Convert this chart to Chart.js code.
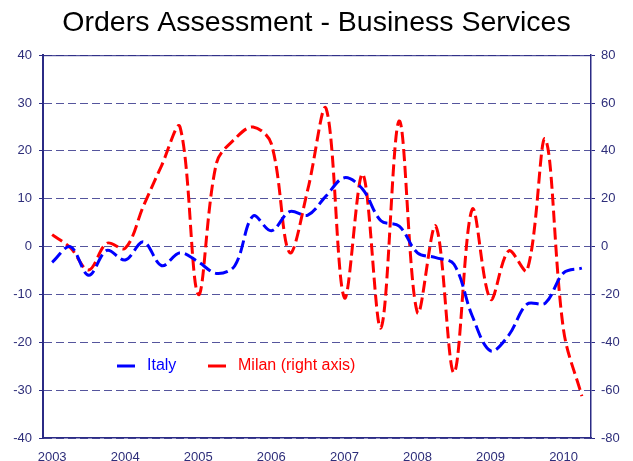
<!DOCTYPE html>
<html>
<head>
<meta charset="utf-8">
<script src="https://cdn.jsdelivr.net/npm/chart.js@4.4.1/dist/chart.umd.min.js"></script>
<style>
  html, body { margin: 0; padding: 0; background: #fff; }
  #wrap { width: 633px; height: 461px; }
</style>
</head>
<body>
<div id="wrap"><canvas id="ordersChart"></canvas></div>
<script>
// quarterly categories, 2003 Q1 .. 2010 Q2
const quarters = [
    "2003 Q1", "2003 Q2", "2003 Q3", "2003 Q4",
    "2004 Q1", "2004 Q2", "2004 Q3", "2004 Q4",
    "2005 Q1", "2005 Q2", "2005 Q3", "2005 Q4",
    "2006 Q1", "2006 Q2", "2006 Q3", "2006 Q4",
    "2007 Q1", "2007 Q2", "2007 Q3", "2007 Q4",
    "2008 Q1", "2008 Q2", "2008 Q3", "2008 Q4",
    "2009 Q1", "2009 Q2", "2009 Q3", "2009 Q4",
    "2010 Q1", "2010 Q2"
];
const yearTicks = ["2003", "2004", "2005", "2006", "2007", "2008", "2009", "2010"];

// left axis
const italy = [-3.3, 0, -6, -0.8, -2.8, 1, -4, -1.3, -3.2, -5.6,
               -4, 6.4, 3.3, 7.3, 6.6, 10.6, 14.4, 12, 5.4, 4.3,
               -1.3, -2.3, -3.7, -14.5, -21.8, -18.5, -12, -11.8, -5.5, -4.5];
// right axis
const milan = [5, -0.5, -9.8, 1.4, -0.7, 17, 34, 50, -20, 35,
               45, 50, 43, -2.5, 24, 57.7, -21.4, 30.3, -34, 52.5,
               -27.6, 8.6, -52.7, 15.6, -22, -1.8, -10, 45, -35, -62.5];

const navy = "#2b2b85";
const tickColor = "#2e2e7a";
const fontFamily = "'Liberation Sans', Arial, sans-serif";

const framePlugin = {
    id: "frame",
    beforeDatasetsDraw(chart) {
        const { ctx, chartArea } = chart;
        ctx.save();
        ctx.strokeStyle = navy;
        ctx.lineWidth = 1;
        ctx.beginPath();
        ctx.moveTo(chartArea.left, chartArea.top + 0.5);
        ctx.lineTo(chartArea.right, chartArea.top + 0.5);
        ctx.stroke();
        ctx.restore();
    },
    afterDraw(chart) {
        // legend drawn inside the plot area
        const ctx = chart.ctx;
        const items = [
            { x: 117, ds: chart.data.datasets[0] },
            { x: 208, ds: chart.data.datasets[1] }
        ];
        const y = 366;
        ctx.save();
        ctx.font = "16px " + fontFamily;
        ctx.textBaseline = "middle";
        items.forEach(it => {
            ctx.strokeStyle = it.ds.borderColor;
            ctx.lineWidth = 3;
            ctx.beginPath();
            ctx.moveTo(it.x, y);
            ctx.lineTo(it.x + 18, y);
            ctx.stroke();
            ctx.fillStyle = it.ds.borderColor;
            ctx.fillText(it.ds.label, it.x + 30, y);
        });
        ctx.restore();
    }
};

const ctx = document.getElementById("ordersChart").getContext("2d");
const myChart = new Chart(ctx, {
    type: "line",
    data: {
        labels: quarters,
        datasets: [
            {
                label: "Italy",
                data: italy,
                yAxisID: "y",
                borderColor: "#0000ff",
                borderWidth: 3,
                borderDash: [13, 5],
                pointRadius: 0,
                tension: 0.35,
                fill: false
            },
            {
                label: "Milan (right axis)",
                data: milan,
                yAxisID: "y1",
                borderColor: "#ff0000",
                borderWidth: 3,
                borderDash: [12, 5],
                pointRadius: 0,
                tension: 0.35,
                fill: false
            }
        ]
    },
    options: {
        responsive: true,
        maintainAspectRatio: false,
        animation: false,
        layout: { padding: 0 },
        scales: {
            x: {
                type: "category",
                offset: true,
                grid: { display: false },
                border: { display: true, color: navy, width: 1.5 },
                ticks: {
                    autoSkip: false,
                    maxRotation: 0,
                    padding: 4,
                    color: tickColor,
                    font: { family: fontFamily, size: 13 },
                    callback: function (v, i) {
                        return i % 4 === 0 ? yearTicks[i / 4] : "";
                    }
                },
                afterFit: s => { s.height = 23; }
            },
            y: {
                position: "left",
                min: -40,
                max: 40,
                ticks: {
                    stepSize: 10,
                    padding: 7,
                    color: tickColor,
                    font: { family: fontFamily, size: 13 }
                },
                grid: {
                    color: "rgba(43,43,133,0.8)",
                    lineWidth: 1,
                    drawTicks: true,
                    tickLength: 4,
                    tickColor: navy,
                    tickBorderDash: []
                },
                border: { display: true, color: navy, width: 2, dash: [8, 4] },
                afterFit: s => { s.width = 43; }
            },
            y1: {
                position: "right",
                min: -80,
                max: 80,
                ticks: {
                    stepSize: 20,
                    padding: 6,
                    color: tickColor,
                    font: { family: fontFamily, size: 13 }
                },
                grid: {
                    drawOnChartArea: false,
                    drawTicks: true,
                    tickLength: 4,
                    tickColor: navy
                },
                border: { display: true, color: navy, width: 1.5 },
                afterFit: s => { s.width = 42; }
            }
        },
        plugins: {
            legend: { display: false },
            tooltip: { enabled: false },
            title: {
                display: true,
                text: "Orders Assessment - Business Services",
                color: "#000",
                font: { family: fontFamily, size: 28.5, weight: "normal" },
                padding: { top: 6, bottom: 15 }
            }
        }
    },
    plugins: [framePlugin]
});
</script>
</body>
</html>
